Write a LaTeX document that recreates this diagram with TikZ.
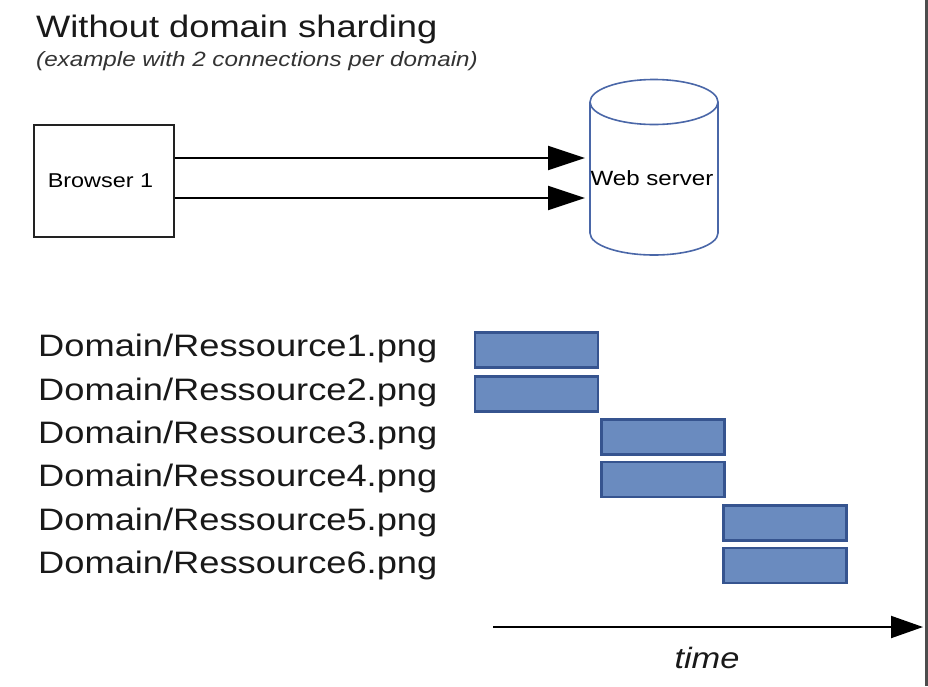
\documentclass[tikz,border=0pt]{standalone}
\usepackage{fontspec}
\setmainfont{Liberation Sans}
\newfontfamily\wf[FakeStretch=1.17]{Liberation Sans}
\usetikzlibrary{arrows.meta}
\definecolor{barfill}{HTML}{6A8BBF}
\definecolor{barline}{HTML}{36548F}
\definecolor{cylline}{HTML}{4A67A8}
\definecolor{boxline}{HTML}{222222}
\definecolor{edgeline}{HTML}{4D4D4D}
\tikzset{
  lbl/.style={anchor=base west, inner sep=0pt, font=\wf\fontsize{31}{31}\selectfont, text=black!90},
  bar/.style={draw=barline, fill=barfill, line width=2.4pt, minimum width=123pt, minimum height=35pt, inner sep=0pt},
  conn/.style={draw=black, line width=2pt, -{Triangle[length=37pt,width=24pt]}, shorten >=3pt},
  tconn/.style={draw=black, line width=2pt, -{Triangle[length=32pt,width=22pt]}},
}
\begin{document}
\begin{tikzpicture}[x=1pt,y=-1pt]
\useasboundingbox (0,0) rectangle (928,686);
% title
\node[anchor=base west, inner sep=0pt, font=\wf\fontsize{31}{31}\selectfont, text=black!90] (title) at (36,37) {Without domain sharding};
\node[anchor=base west, inner sep=0pt, font=\wf\itshape\fontsize{20.7}{21}\selectfont, text=black!80] (sub) at (36,66) {(example with 2 connections per domain)};
% browser
\node[draw=boxline, line width=2pt, minimum width=140pt, minimum height=112pt, inner sep=0pt] (br) at (104,181) {};
\node[inner sep=0pt, font=\wf\fontsize{20}{20}\selectfont] (brt) at (100.5,181) {Browser 1};
% cylinder
\draw[cylline, line width=1.6pt, fill=white] (590,102) -- (590,233) arc[start angle=180, end angle=360, x radius=64pt, y radius=22pt] -- (718,102);
\draw[cylline, line width=1.6pt] (654,102) ellipse[x radius=64pt, y radius=22.5pt];
\node[minimum width=128pt, minimum height=153pt, inner sep=0pt, outer sep=0pt, font=\wf\fontsize{20.6}{21}\selectfont] (cyl) at (652,178.5) {Web server};
% connections
\draw[conn] (br.east |- 0,158) -- (cyl.west |- 0,158);
\draw[conn] (br.east |- 0,198) -- (cyl.west |- 0,198);
% labels
\node[lbl] (l1) at (38,356.7) {Domain/Ressource1.png};
\node[lbl] (l2) at (38,400) {Domain/Ressource2.png};
\node[lbl] (l3) at (38,443.3) {Domain/Ressource3.png};
\node[lbl] (l4) at (38,486.7) {Domain/Ressource4.png};
\node[lbl] (l5) at (38,530) {Domain/Ressource5.png};
\node[lbl] (l6) at (38,573.3) {Domain/Ressource6.png};
% bars
\node[bar] (b1) at (536.5,350) {};
\node[bar] (b2) at (536.5,394) {};
\node[bar] (b3) at (663,437) {};
\node[bar] (b4) at (663,479.5) {};
\node[bar] (b5) at (785,523) {};
\node[bar] (b6) at (785,565.5) {};
% time axis
\coordinate (ts) at (493,627);
\coordinate (te) at (923,627);
\draw[tconn] (ts) -- (te);
\node[inner sep=0pt, font=\wf\itshape\fontsize{29.4}{30}\selectfont, text=black!90] (time) at (707,657.5) {time};
% right edge
\draw[edgeline, line width=3pt] (926.5,0) -- (926.5,686);
\end{tikzpicture}
\end{document}
